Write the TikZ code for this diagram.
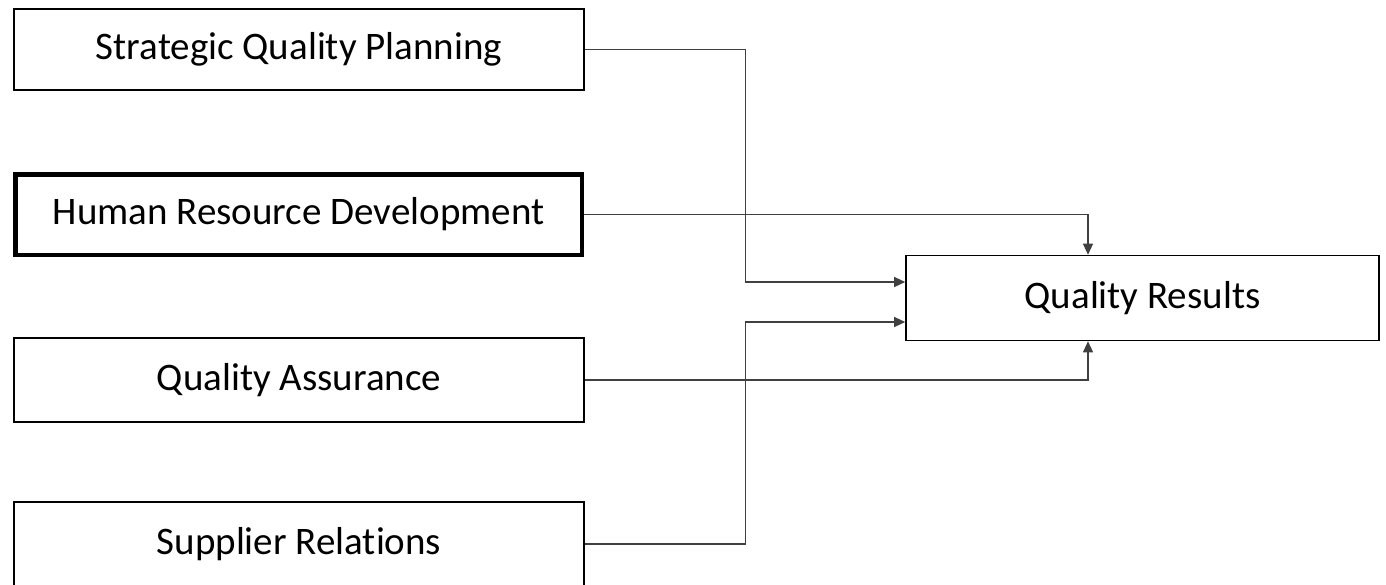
\documentclass[tikz,border=0pt]{standalone}
\usepackage{fontspec}
\setmainfont[Ligatures=NoCommon]{Carlito}
\usetikzlibrary{calc,arrows.meta}

\tikzset{
  factor/.style={draw, line width=1.6pt, minimum width=570pt, minimum height=81pt,
    inner sep=0pt, font=\fontsize{39}{46}\selectfont},
  link/.style={line width=1.2pt, draw=black!75, -{Triangle[length=11pt,width=10pt]}}
}

\begin{document}
\begin{tikzpicture}[x=1pt,y=-1pt]
    \useasboundingbox (0,0) rectangle (1386,584);
    % factors on the left
    \node[factor] (sqp) at (299,49.5) {Strategic Quality Planning};
    \node[factor, line width=4.5pt, minimum width=566.5pt, minimum height=80.5pt] (hrd) at (298.5,214.5) {Human Resource Development};
    \node[factor, minimum height=84pt] (qa) at (299,380) {Quality Assurance};
    \node[factor, minimum height=84pt] (sr) at (299,544) {Supplier Relations};
    % result
    \node[factor, minimum width=473pt, minimum height=85pt] (qr) at (1142.5,298) {Quality Results};
    \coordinate (high) at ($(qr.west)+(0,-16)$);
    \coordinate (low) at ($(qr.west)+(0,24)$);
    \draw[link] (sqp.east) -| ($(high)+(-160,0)$) -- (high);
    \draw[link] (hrd.east) -| ($(qr.north)+(-54.5,0)$);
    \draw[link] (qa.east) -| ($(qr.south)+(-54.5,0)$);
    \draw[link] (sr.east) -| ($(low)+(-160,0)$) -- (low);
\end{tikzpicture}
\end{document}
